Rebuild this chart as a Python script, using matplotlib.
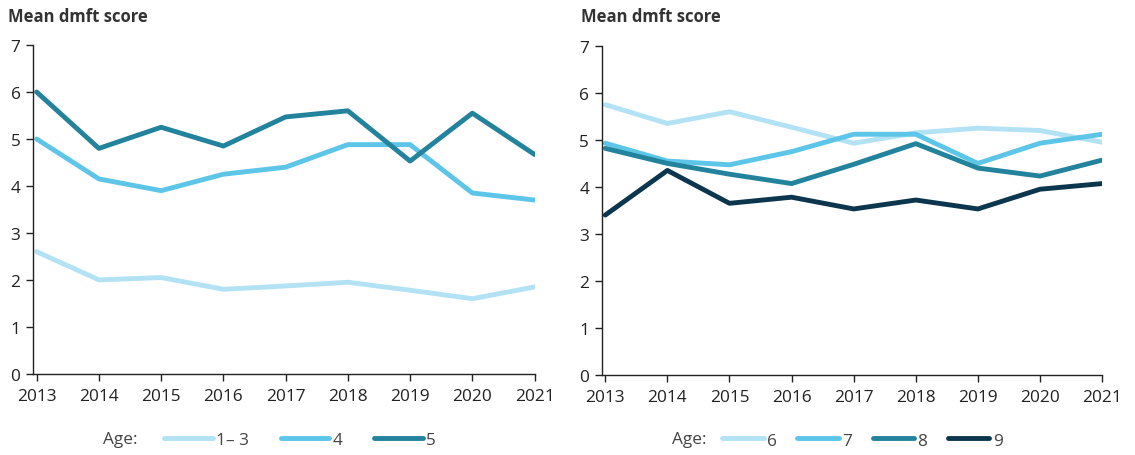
import matplotlib.pyplot as plt
import numpy as np

plt.rcParams['font.family'] = ['Open Sans', 'DejaVu Sans']

years = [2013, 2014, 2015, 2016, 2017, 2018, 2019, 2020, 2021]

# left panel: ages 1-3, 4, 5
left_labels = ['1– 3', '4', '5']
age_1_3 = [2.6, 2.0, 2.05, 1.8, 1.87, 1.95, 1.78, 1.6, 1.85]
age_4 = [5.0, 4.15, 3.9, 4.25, 4.4, 4.88, 4.88, 3.85, 3.7]
age_5 = [6.0, 4.8, 5.25, 4.85, 5.47, 5.6, 4.53, 5.55, 4.67]

# right panel: ages 6-9
right_labels = ['6', '7', '8', '9']
age_6 = [5.75, 5.35, 5.6, 5.27, 4.93, 5.15, 5.25, 5.2, 4.95]
age_7 = [4.93, 4.55, 4.47, 4.75, 5.12, 5.12, 4.5, 4.93, 5.12]
age_8 = [4.82, 4.5, 4.27, 4.07, 4.48, 4.92, 4.4, 4.23, 4.57]
age_9 = [3.4, 4.35, 3.65, 3.78, 3.53, 3.72, 3.53, 3.95, 4.07]

colors = ['#b2e2f4', '#5cc5e8', '#23839c', '#0c364d']
text_col = '#222222'

fig = plt.figure(figsize=(11.35, 4.56), dpi=100)
ax_l = fig.add_axes([0.029, 0.178, 0.442, 0.721])
ax_r = fig.add_axes([0.530, 0.176, 0.441, 0.721])


def style_axis(ax):
    ax.set_xlim(2012.94, 2021)
    ax.set_ylim(0, 7)
    ax.set_xticks(years)
    ax.set_yticks(range(8))
    for s in ['top', 'right']:
        ax.spines[s].set_visible(False)
    for s in ['left', 'bottom']:
        ax.spines[s].set_linewidth(1.0)
        ax.spines[s].set_color('#222222')
    ax.tick_params(axis='both', length=5, width=1, color='#222222',
                   labelsize=12.4, labelcolor=text_col)
    ax.tick_params(axis='x', pad=5)
    ax.tick_params(axis='y', pad=4)
    ax.patch.set_alpha(0)


for ax, series, labels in [(ax_l, [age_1_3, age_4, age_5], left_labels),
                           (ax_r, [age_6, age_7, age_8, age_9], right_labels)]:
    cols = colors[:3] if len(series) == 3 else colors
    for vals, lab, c in zip(series, labels, cols):
        ax.plot(years, vals, color=c, lw=3.5, label=lab, solid_capstyle='round',
                solid_joinstyle='round')
    style_axis(ax)

# titles
fig.text(0.007, 0.962, 'Mean dmft score', fontsize=12, fontweight='bold',
         color='#333333', va='center', ha='left')
fig.text(0.512, 0.962, 'Mean dmft score', fontsize=12, fontweight='bold',
         color='#333333', va='center', ha='left')

# legends
fig.text(0.091, 0.035, 'Age:', fontsize=12.4, color='#444444', va='center')
leg_l = ax_l.legend(loc='center left', bbox_to_anchor=(0.262, -0.2), ncol=3,
                    frameon=False, fontsize=12.4, handlelength=2.8,
                    handletextpad=0.2, columnspacing=1.85, labelcolor='#444444',
                    borderpad=0, borderaxespad=0)
fig.text(0.592, 0.035, 'Age:', fontsize=12.4, color='#444444', va='center')
leg_r = ax_r.legend(loc='center left', bbox_to_anchor=(0.241, -0.2), ncol=4,
                    frameon=False, fontsize=12.4, handlelength=2.4,
                    handletextpad=0.2, columnspacing=1.2, labelcolor='#444444',
                    borderpad=0, borderaxespad=0)

fig.savefig('out.png', dpi=100)
